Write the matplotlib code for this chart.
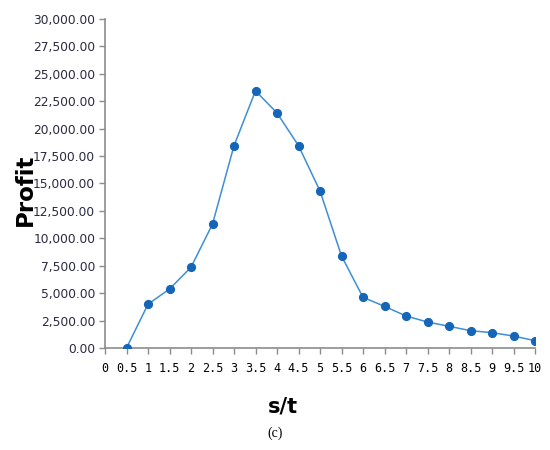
import matplotlib
matplotlib.use('Agg')
from matplotlib import pyplot as plt
from matplotlib.ticker import FuncFormatter


# s/t categories shown on the x axis
categories = ['0', '0.5', '1', '1.5', '2', '2.5', '3', '3.5', '4', '4.5', '5',
              '5.5', '6', '6.5', '7', '7.5', '8', '8.5', '9', '9.5', '10']

# profit values, one per category starting at 0.5 (nothing plotted at 0)
profit = [0, 3990, 5380, 7360, 11300, 18450, 23450, 21430, 18450, 14320,
          8390, 4620, 3800, 2920, 2370, 1980, 1580, 1400, 1090, 670]

y_ticks = [0, 2500, 5000, 7500, 10000, 12500, 15000, 17500, 20000,
           22500, 25000, 27500, 30000]


def main():
    fig = plt.figure(figsize=(5.5, 4.5), dpi=100)
    ax = fig.add_axes([105 / 550, 1 - 348 / 450, 430 / 550, 329 / 450])

    x_pos = list(range(1, len(categories)))
    ax.plot(x_pos, profit, '-', color='#3d8fd6', linewidth=1.1, zorder=2)
    ax.plot(x_pos, profit, 'o', color='#1565b8', markersize=5.6, zorder=3)

    ax.set_xlim(0, len(categories) - 1)
    ax.set_ylim(0, 30000)

    ax.set_xticks(range(len(categories)))
    ax.set_xticklabels(categories, family='DejaVu Sans Mono', fontsize=8.5)
    ax.set_yticks(y_ticks)
    ax.yaxis.set_major_formatter(FuncFormatter(lambda v, p: f'{v:,.2f}'))
    for lbl in ax.get_yticklabels():
        lbl.set_fontsize(8.8)
        lbl.set_color('#2a2a40')

    for side in ['top', 'right']:
        ax.spines[side].set_visible(False)
    for side in ['left', 'bottom']:
        ax.spines[side].set_color('#8c8c8c')
        ax.spines[side].set_linewidth(1.2)
    ax.tick_params(axis='both', direction='out', length=4, width=1,
                   color='#8c8c8c')
    ax.tick_params(axis='y', pad=3)
    ax.tick_params(axis='x', pad=6)

    fig.text(25 / 550, 1 - 190 / 450, 'Profit', rotation=90, fontsize=16.5,
             fontweight='bold', ha='center', va='center')
    fig.text(283 / 550, 1 - 407 / 450, 's/t', fontsize=15,
             fontweight='bold', ha='center', va='center')
    fig.text(275 / 550, 1 - 433 / 450, '(c)', fontsize=10,
             family='Liberation Serif', ha='center', va='center')

    plt.savefig('out.png', dpi=100)
    plt.close()


if __name__ == '__main__':
    main()
